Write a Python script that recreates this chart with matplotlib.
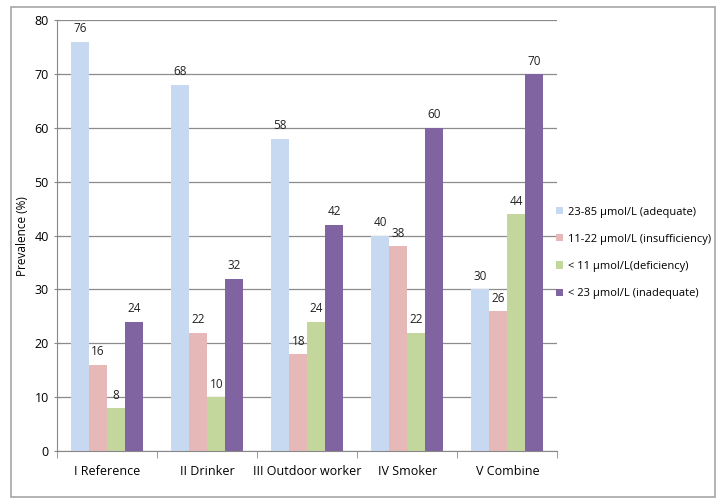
import numpy as np
import matplotlib.pyplot as plt
from matplotlib.patches import Rectangle

# ===== data =====
categories = ["I Reference", "II Drinker", "III Outdoor worker", "IV Smoker", "V Combine"]
series_names = [
    "23-85 \u00b5mol/L (adequate)",
    "11-22 \u00b5mol/L (insufficiency)",
    "< 11 \u00b5mol/L(deficiency)",
    "< 23 \u00b5mol/L (inadequate)",
]
adequate = [76, 68, 58, 40, 30]
insufficiency = [16, 22, 18, 38, 26]
deficiency = [8, 10, 24, 22, 44]
inadequate = [24, 32, 42, 60, 70]
yticks = [0, 10, 20, 30, 40, 50, 60, 70, 80]

colors = ["#C6D9F1", "#E6B9B8", "#C3D69B", "#8064A2"]

plt.rcParams['font.family'] = ['Open Sans', 'DejaVu Sans']

fig = plt.figure(figsize=(7.23, 5.04), dpi=100)
ax = fig.add_axes([0.079, 0.105, 0.692, 0.855])

# outer frame
fig.patches.append(Rectangle((0.015, 0.014), 0.974, 0.972, transform=fig.transFigure,
                             fill=False, edgecolor="#A6A6A6", lw=1.2))

x = np.arange(len(categories))
w = 0.18
allvals = [adequate, insufficiency, deficiency, inadequate]
for i, (vals, name, c) in enumerate(zip(allvals, series_names, colors)):
    pos = x + (i - 1.5) * w
    ax.bar(pos, vals, w, color=c, label=name, zorder=2)
    for p, v in zip(pos, vals):
        ax.text(p, v + 1.2, str(v), ha="center", va="bottom", fontsize=8.5, color="#222222")

ax.set_xlim(-0.5, len(categories) - 0.5)
ax.set_ylim(0, 80)
ax.set_yticks(yticks)
ax.set_xticks(x)
ax.set_xticklabels(categories, fontsize=9)
ax.tick_params(axis="y", labelsize=9, length=5, direction="inout", color="#888888")
ax.tick_params(axis="x", length=0, pad=10)
ax.set_xticks(np.arange(len(categories) + 1) - 0.5, minor=True)
ax.tick_params(axis="x", which="minor", length=5, direction="out", color="#888888")
ax.yaxis.grid(True, color="#8C8C8C", lw=0.9, zorder=0)
ax.set_axisbelow(True)
for s in ["top", "right"]:
    ax.spines[s].set_visible(False)
for s in ["left", "bottom"]:
    ax.spines[s].set_color("#888888")
ax.set_ylabel("Prevalence (%)", fontsize=8.5)

ax.legend(loc="center left", bbox_to_anchor=(0.997, 0.46), frameon=False, fontsize=8,
          handlelength=0.6, handleheight=0.6, labelspacing=1.45, handletextpad=0.5,
          borderaxespad=0.0, borderpad=0.0)

fig.savefig("out.png", dpi=100)
